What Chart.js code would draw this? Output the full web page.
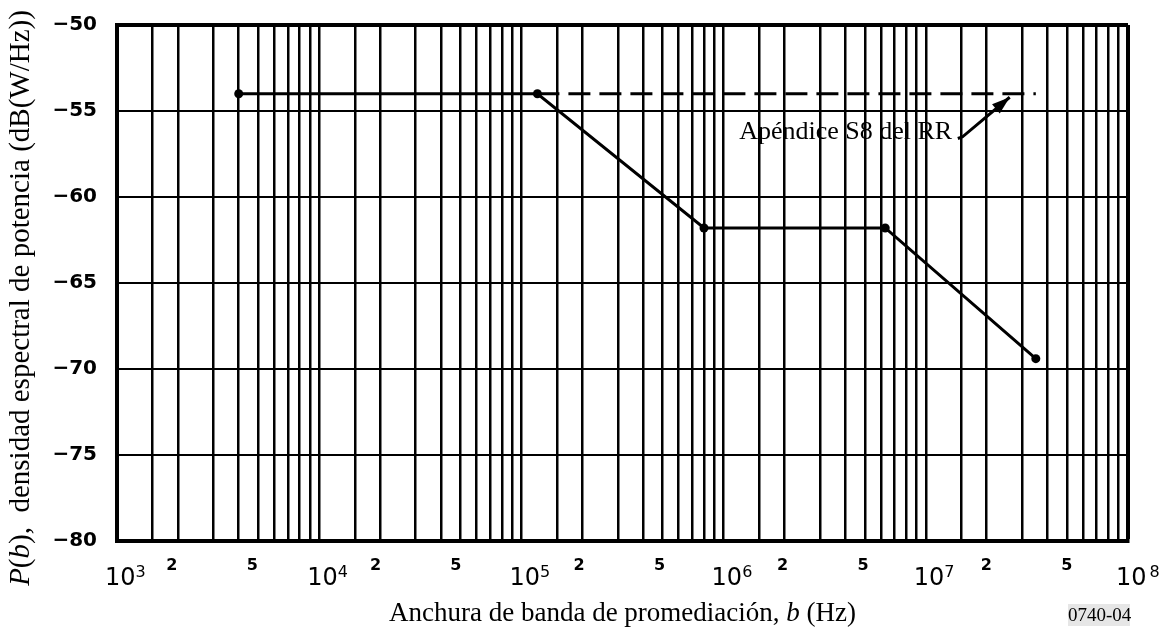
<!DOCTYPE html>
<html>
<head>
<meta charset="utf-8">
<script src="https://cdn.jsdelivr.net/npm/chart.js@4"></script>
<style>
  body { margin: 0; background: #fff; }
  #wrap { width: 1163px; height: 639px; }
</style>
</head>
<body>
<div id="wrap"><canvas id="chart" width="1163" height="639"></canvas></div>
<script>
// limit curve
const bandwidth = [4e3, 1.2e5, 8e5, 6.3e6, 3.5e7]
const density = [-54, -54, -61.8, -61.8, -69.4]
// RR Appendix S8 level (dashed)
const rrBandwidth = [1.2e5, 3.5e7]
const rrDensity = [-54, -54]

const yTicks = [-80, -75, -70, -65, -60, -55, -50]
const decades = [1e3, 1e4, 1e5, 1e6, 1e7, 1e8]
const decadeExp = ["3", "4", "5", "6", "7", "8"]
const gridSteps = [1, 1.5, 2, 3, 4, 5, 6, 7, 8, 9]
const minorLabels = ["2", "5"]

const xGrid = []
decades.forEach(d => gridSteps.forEach(s => { if (d * s <= 1e8) xGrid.push(d * s) }))

const noteText = "Apéndice S8 del RR"
const noteAt = { x: 1.35e7, y: -56.6 }
const arrowPath = [{ x: 1.44e7, y: -56.6 }, { x: 1.52e7, y: -56.5 }, { x: 2.6e7, y: -54.2 }]

function toPoints(xs, ys) {
  return xs.map((v, i) => ({ x: v, y: ys[i] }))
}

function drawRich(ctx, parts, x, y, size) {
  let cx = x
  parts.forEach(([t, style]) => {
    ctx.font = `${style} ${size}px 'Liberation Serif'`
    ctx.fillText(t, cx, y)
    cx += ctx.measureText(t).width
  })
  return cx - x
}

function richWidth(ctx, parts, size) {
  let w = 0
  parts.forEach(([t, style]) => {
    ctx.font = `${style} ${size}px 'Liberation Serif'`
    w += ctx.measureText(t).width
  })
  return w
}

const textPlugin = {
  id: "texts",
  afterDraw(chart) {
    const ctx = chart.ctx
    const xs = chart.scales.x
    const ys = chart.scales.y
    const area = chart.chartArea
    ctx.save()
    ctx.fillStyle = "#000"
    ctx.strokeStyle = "#000"
    ctx.textBaseline = "alphabetic"

    // x tick labels: 10^n plus 2 and 5
    decades.forEach((d, i) => {
      const px = xs.getPixelForValue(d)
      ctx.textAlign = "left"
      ctx.font = "24px 'DejaVu Sans'"
      ctx.fillText("10", px - 12, area.bottom + 44)
      const w = ctx.measureText("10").width
      ctx.font = "16px 'DejaVu Sans'"
      ctx.fillText(decadeExp[i], px - 12 + w + (i === 5 ? 3 : 0), area.bottom + 36)
      if (i < decades.length - 1) {
        ctx.textAlign = "center"
        ctx.font = "bold 16px 'DejaVu Sans'"
        minorLabels.forEach(m => {
          ctx.fillText(m, xs.getPixelForValue(d * Number(m)) - 6 + 1.4 * i, area.bottom + 29)
        })
      }
    })

    // x title
    const xParts = [["Anchura de banda de promediación, ", ""], ["b", "italic"], [" (Hz)", ""]]
    ctx.textAlign = "left"
    const xw = richWidth(ctx, xParts, 27)
    drawRich(ctx, xParts, (area.left + area.right) / 2 - xw / 2, 621, 27)

    // figure number
    ctx.fillStyle = "#e6e6e6"
    ctx.fillRect(1068, 604, 62, 22)
    ctx.fillStyle = "#000"
    ctx.font = "19px 'Liberation Serif'"
    ctx.fillText("0740-04", 1068, 621)

    // y title
    ctx.save()
    ctx.translate(21, 298)
    ctx.rotate(-Math.PI / 2)
    ctx.textBaseline = "middle"
    const yParts = [["P", "italic"], ["(", ""], ["b", "italic"], ["),  densidad espectral de potencia (dB(W/Hz))", ""]]
    const yw = richWidth(ctx, yParts, 29)
    drawRich(ctx, yParts, -yw / 2, 0, 29)
    ctx.restore()

    // annotation
    ctx.textAlign = "right"
    ctx.font = "26px 'Liberation Serif'"
    ctx.fillText(noteText, xs.getPixelForValue(noteAt.x), ys.getPixelForValue(noteAt.y))

    const pts = arrowPath.map(p => ({ x: xs.getPixelForValue(p.x), y: ys.getPixelForValue(p.y) }))
    ctx.lineWidth = 3
    ctx.beginPath()
    ctx.moveTo(pts[0].x, pts[0].y)
    for (let i = 1; i < pts.length; i++) ctx.lineTo(pts[i].x, pts[i].y)
    ctx.stroke()
    const tip = pts[pts.length - 1]
    const prev = pts[pts.length - 2]
    const ang = Math.atan2(tip.y - prev.y, tip.x - prev.x)
    ctx.beginPath()
    ctx.moveTo(tip.x, tip.y)
    ctx.lineTo(tip.x - 18 * Math.cos(ang) + 6 * Math.sin(ang), tip.y - 18 * Math.sin(ang) - 6 * Math.cos(ang))
    ctx.lineTo(tip.x - 18 * Math.cos(ang) - 6 * Math.sin(ang), tip.y - 18 * Math.sin(ang) + 6 * Math.cos(ang))
    ctx.closePath()
    ctx.fill()

    ctx.restore()
  }
}

new Chart(document.getElementById("chart"), {
  type: "line",
  data: {
    datasets: [
      {
        data: toPoints(bandwidth, density),
        borderColor: "#000",
        backgroundColor: "#000",
        borderWidth: 3,
        pointRadius: 4.5,
        pointBorderWidth: 0,
        tension: 0
      },
      {
        data: toPoints(rrBandwidth, rrDensity),
        borderColor: "#000",
        borderWidth: 3,
        borderDash: [22, 9],
        pointRadius: 0,
        tension: 0
      }
    ]
  },
  options: {
    responsive: false,
    animation: false,
    layout: { padding: { top: 25, right: 35, left: 0, bottom: 0 } },
    plugins: { legend: { display: false }, tooltip: { enabled: false } },
    scales: {
      x: {
        type: "logarithmic",
        min: 1e3,
        max: 1e8,
        afterBuildTicks: s => { s.ticks = xGrid.map(v => ({ value: v })) },
        afterFit: s => { s.height = 98 },
        ticks: { display: false },
        grid: {
          color: "#000",
          lineWidth: c => (c.tick && c.tick.value >= 1e8 ? 4 : 2.5),
          drawTicks: false
        },
        border: { color: "#000", width: 4 }
      },
      y: {
        min: -80,
        max: -50,
        afterBuildTicks: s => { s.ticks = yTicks.map(v => ({ value: v })) },
        afterFit: s => {
          s.width = 117
          s.paddingTop = 0
          s.paddingBottom = 0
        },
        ticks: {
          color: "#000",
          padding: 20,
          font: { family: "DejaVu Sans", weight: "bold", size: 20 },
          callback: v => String(v).replace("-", "\u2212")
        },
        grid: {
          color: "#000",
          lineWidth: c => (c.tick && c.tick.value === -50 ? 4 : 2),
          drawTicks: false
        },
        border: { color: "#000", width: 4 }
      }
    }
  },
  plugins: [textPlugin]
})
</script>
</body>
</html>
